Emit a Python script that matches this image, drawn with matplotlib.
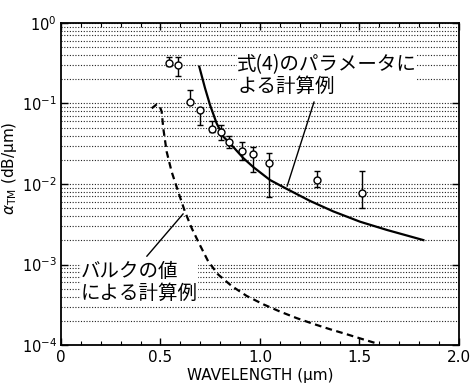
import numpy as np
import matplotlib
matplotlib.use("Agg")
import matplotlib.pyplot as plt
from matplotlib.ticker import LogLocator, MultipleLocator, NullFormatter

plt.rcParams['font.family'] = ['DejaVu Sans', 'Noto Sans CJK JP']

# measured points with error bars (wavelength um, alpha dB/um)
wl_meas = [0.543, 0.589, 0.648, 0.698, 0.757, 0.802, 0.846, 0.911, 0.966, 1.045, 1.288, 1.514]
a_meas = [0.316, 0.301, 0.1035, 0.083, 0.0478, 0.0446, 0.0335, 0.0259, 0.0236, 0.0184, 0.0112, 0.00766]
a_hi = [0.381, 0.381, 0.147, 0.083, 0.0606, 0.054, 0.0395, 0.0335, 0.0286, 0.0245, 0.0145, 0.0145]
a_lo = [0.292, 0.22, 0.1035, 0.054, 0.0446, 0.0352, 0.028, 0.0199, 0.0142, 0.00695, 0.0091, 0.00499]

# calculation with eq.(4) parameters
wl_eq4 = [0.695, 0.724, 0.749, 0.782, 0.816, 0.866, 0.916, 0.966, 1.050, 1.134,
          1.251, 1.368, 1.503, 1.637, 1.821]
a_eq4 = [0.286, 0.1545, 0.0957, 0.0568, 0.0387, 0.0288, 0.0210, 0.01626, 0.01122, 0.0087,
         0.00617, 0.00457, 0.0034, 0.00269, 0.00201]

# calculation with bulk values
wl_bulk = [0.456, 0.481, 0.497, 0.506, 0.514, 0.531, 0.556, 0.589, 0.623, 0.657, 0.698,
           0.740, 0.790, 0.858, 0.933, 1.017, 1.101, 1.184, 1.268, 1.352, 1.436, 1.519, 1.586]
a_bulk = [0.0871, 0.0977, 0.0912, 0.0791, 0.0492, 0.0252, 0.01422, 0.00802, 0.00453, 0.00282,
          0.001746, 0.00109, 0.00075, 0.00054, 0.000407, 0.00032, 0.00026, 0.000216,
          0.000183, 0.000157, 0.000136, 0.0001175, 0.0001047]

fig = plt.figure(figsize=(4.71, 3.87), dpi=100)
ax = fig.add_axes([0.1295, 0.1085, 0.845, 0.8321])

ax.set_yscale('log')
ax.set_xlim(0, 2.0)
ax.set_ylim(1e-4, 1)

ax.yaxis.set_major_locator(LogLocator(base=10, numticks=10))
ax.yaxis.set_minor_locator(LogLocator(base=10, subs=np.arange(2, 10), numticks=20))
ax.yaxis.set_minor_formatter(NullFormatter())
ax.xaxis.set_major_locator(MultipleLocator(0.5))
ax.xaxis.set_minor_locator(MultipleLocator(0.1))
ax.set_xticks([0, 0.5, 1.0, 1.5, 2.0])
ax.set_xticklabels(['0', '0.5', '1.0', '1.5', '2.0'])

ax.grid(which='both', axis='y', color='#222222', linestyle=(0, (1, 1.5)), linewidth=0.8)
ax.tick_params(which='both', direction='in', top=True, right=True, labelsize=11, colors='black')
ax.tick_params(axis='y', labelsize=10.5, pad=3)
ax.tick_params(which='major', length=5, width=1)
ax.tick_params(which='minor', axis='x', length=3, width=0.8)
ax.tick_params(which='minor', axis='y', length=0)
for s in ax.spines.values():
    s.set_linewidth(1.3)

ax.plot(wl_eq4, a_eq4, color='black', linewidth=1.6)
ax.plot(wl_bulk, a_bulk, color='black', linewidth=1.6, linestyle=(0, (3, 2)))

yerr = [np.array(a_meas) - np.array(a_lo), np.array(a_hi) - np.array(a_meas)]
ax.errorbar(wl_meas, a_meas, yerr=yerr, fmt='o', mfc='white', mec='black', ms=5,
            mew=1, ecolor='black', elinewidth=1, capsize=2.5, capthick=1)

jp = ['Noto Sans CJK JP', 'DejaVu Sans']
ax.annotate('', xy=(1.132, 0.0087), xytext=(1.276, 0.113),
            arrowprops=dict(arrowstyle='-', color='black', lw=1))
ax.text(0.885, 0.22, '式(4)のパラメータに\nよる計算例', family=jp, fontsize=14,
        va='center', ha='left', linespacing=1.05,
        bbox=dict(facecolor='white', edgecolor='none', pad=0.3))

ax.annotate('', xy=(0.623, 0.00453), xytext=(0.422, 0.00119),
            arrowprops=dict(arrowstyle='-', color='black', lw=1))
ax.text(0.1, 0.0006, 'バルクの値\nによる計算例', family=jp, fontsize=14,
        va='center', ha='left', linespacing=1.05,
        bbox=dict(facecolor='white', edgecolor='none', pad=0.3))

ax.set_xlabel('WAVELENGTH (μm)', fontsize=11, labelpad=2)
ax.set_ylabel(r'$\alpha_{\rm TM}$ (dB/μm)', fontsize=11)
ax.yaxis.set_label_coords(-0.105, 0.55)

fig.savefig('out.png', dpi=100)
